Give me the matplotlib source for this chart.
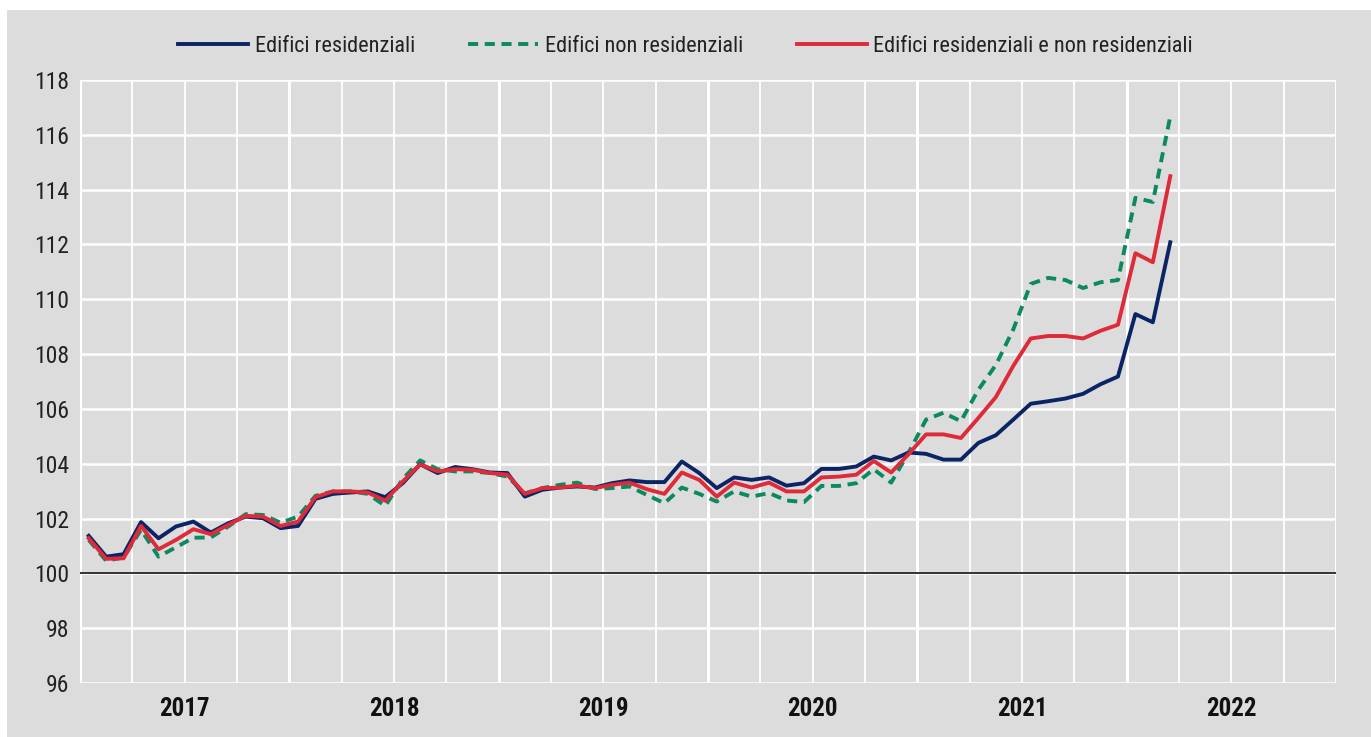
import matplotlib
matplotlib.use("Agg")
import matplotlib.pyplot as plt
from matplotlib.patches import Rectangle
from matplotlib import font_manager
import numpy as np

# ---------------- data ----------------
years = ["2017", "2018", "2019", "2020", "2021", "2022"]
series_names = ["Edifici residenziali", "Edifici non residenziali",
                "Edifici residenziali e non residenziali"]

# monthly index values, Jan 2017 .. Mar 2022
residenziali = [
    101.37, 100.61, 100.70, 101.87, 101.28, 101.71, 101.89, 101.49, 101.83, 102.07, 102.01, 101.65,
    101.73, 102.72, 102.90, 102.95, 102.99, 102.78, 103.29, 103.98, 103.66, 103.88, 103.80, 103.68,
    103.66, 102.80, 103.05, 103.13, 103.17, 103.13, 103.29, 103.39, 103.33, 103.33, 104.08, 103.66,
    103.11, 103.50, 103.41, 103.50, 103.20, 103.29, 103.81, 103.81, 103.90, 104.26, 104.12, 104.41,
    104.36, 104.15, 104.15, 104.76, 105.04, 105.61, 106.19, 106.28, 106.38, 106.55, 106.90, 107.18,
    109.46, 109.16, 112.08]
non_residenziali = [
    101.22, 100.46, 100.58, 101.59, 100.61, 100.95, 101.30, 101.31, 101.71, 102.16, 102.13, 101.85,
    102.07, 102.83, 102.99, 102.99, 102.90, 102.46, 103.44, 104.12, 103.80, 103.72, 103.72, 103.66,
    103.53, 102.92, 103.11, 103.23, 103.31, 103.08, 103.11, 103.17, 102.86, 102.56, 103.13, 102.90,
    102.62, 102.99, 102.80, 102.93, 102.66, 102.60, 103.19, 103.19, 103.29, 103.80, 103.31, 104.40,
    105.61, 105.86, 105.55, 106.70, 107.60, 108.90, 110.56, 110.78, 110.70, 110.41, 110.62, 110.70,
    113.70, 113.55, 116.67]
totale = [
    101.28, 100.53, 100.55, 101.73, 100.88, 101.22, 101.61, 101.43, 101.77, 102.10, 102.07, 101.73,
    101.89, 102.78, 102.99, 102.99, 102.95, 102.65, 103.35, 103.98, 103.72, 103.80, 103.78, 103.66,
    103.60, 102.90, 103.11, 103.13, 103.20, 103.11, 103.23, 103.31, 103.07, 102.90, 103.68, 103.41,
    102.80, 103.31, 103.13, 103.31, 102.99, 102.99, 103.50, 103.53, 103.60, 104.10, 103.68, 104.35,
    105.07, 105.07, 104.94, 105.67, 106.43, 107.57, 108.57, 108.66, 108.66, 108.57, 108.85, 109.07,
    111.68, 111.35, 114.49]
y_ticks = [96, 98, 100, 102, 104, 106, 108, 110, 112, 114, 116, 118]

# ---------------- style ----------------
BG = "#dcdcdc"
NAVY = "#0b2466"
GREEN = "#0a8a5e"
RED = "#df2a3a"

available = {f.name for f in font_manager.fontManager.ttflist}
narrow = None
for cand in ["Liberation Sans Narrow", "Arial Narrow", "Roboto Condensed",
             "Noto Sans Condensed", "Open Sans Condensed", "DejaVu Sans Condensed"]:
    if cand in available:
        narrow = cand
        break
if narrow is not None:
    FONT = [narrow, "DejaVu Sans"]
    scale = 1.0
else:
    FONT = ["Liberation Sans", "DejaVu Sans"]
    scale = 0.85
plt.rcParams["font.family"] = FONT

W, H = 1371, 737
fig = plt.figure(figsize=(W / 100, H / 100), dpi=100)
fig.patch.set_facecolor(BG)
fig.patches.append(Rectangle((0, 1 - 10 / H), 1, 10 / H, transform=fig.transFigure,
                             facecolor="white", edgecolor="none"))
fig.patches.append(Rectangle((0, 0), 7 / W, 1, transform=fig.transFigure,
                             facecolor="white", edgecolor="none"))

ax = fig.add_axes([80 / W, (H - 683) / H, 1256 / W, 603 / H])
ax.set_facecolor(BG)
for s in ax.spines.values():
    s.set_visible(False)

n_months = 12 * len(years)
x = np.arange(len(residenziali))

ax.set_xlim(-0.5, n_months - 0.5)
ax.set_ylim(y_ticks[0], y_ticks[-1])

# grid
for yv in y_ticks:
    ax.axhline(yv, color="white", lw=1.8, zorder=1)
for k in range(0, n_months + 1, 3):
    ax.axvline(k - 0.5, color="white", lw=2.2 if k % 12 == 0 else 1.3, zorder=1)
ax.axhline(100, color="#333333", lw=1.4, zorder=2)

l2, = ax.plot(x, non_residenziali, color=GREEN, lw=2.8, ls=(0, (2.6, 1.7)), zorder=3,
              label=series_names[1])
l1, = ax.plot(x, residenziali, color=NAVY, lw=2.8, zorder=4, label=series_names[0])
l3, = ax.plot(x, totale, color=RED, lw=2.8, zorder=5, label=series_names[2])

ax.set_yticks(y_ticks)
ax.set_yticklabels([str(v) for v in y_ticks], fontsize=17 * scale, color="#222222")
ax.set_xticks([12 * i + 5.5 for i in range(len(years))])
ax.set_xticklabels(years, fontsize=18 * scale, fontweight="bold", color="#111111")
ax.tick_params(axis="both", length=0)
ax.tick_params(axis="y", pad=8)
ax.tick_params(axis="x", pad=10)

leg = fig.legend(handles=[l1, l2, l3], loc="center", bbox_to_anchor=(0.5, (H - 46) / H),
                 ncol=3, frameon=False, fontsize=16 * scale, handlelength=3.15 / scale,
                 handletextpad=0.3, columnspacing=2.4)
for t in leg.get_texts():
    t.set_color("#222222")

fig.savefig("out.png", dpi=100, facecolor=fig.get_facecolor())
